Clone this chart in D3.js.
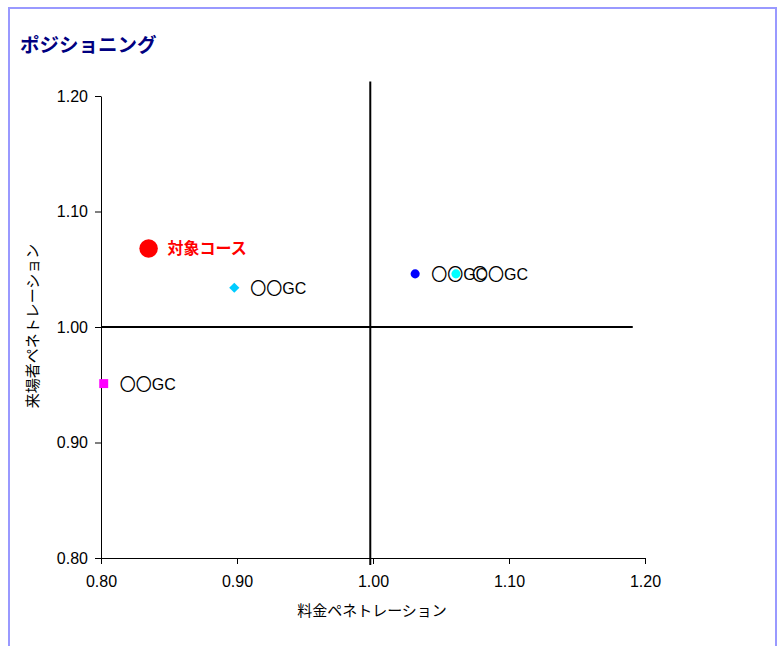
<!DOCTYPE html>
<html>
<head>
<meta charset="utf-8">
<script src="https://cdn.jsdelivr.net/npm/d3@7"></script>
<style>
  body { margin: 0; background: #fff; }
  svg { font-family: "Liberation Sans", Arial, sans-serif; }
</style>
</head>
<body>
<svg id="chart" width="780" height="646"></svg>
<script>
// points (料金ペネトレーション, 来場者ペネトレーション)
var names = ["対象コース", "〇〇GC", "〇〇GC", "〇〇GC", "〇〇GC"];
var priceVals = [0.835, 0.898, 0.802, 1.031, 1.061];
var visitorVals = [1.068, 1.034, 0.951, 1.046, 1.046];
var shapes = ["bigcircle", "diamond", "square", "circle", "circle"];
var colors = ["#ff0000", "#00ccff", "#ff00ff", "#0000ff", "#00ffff"];

var xTicks = [0.8, 0.9, 1.0, 1.1, 1.2];
var yTicks = [0.8, 0.9, 1.0, 1.1, 1.2];

// crosshair lines
var vLineX = [0.998, 0.998];
var vLineY = [1.2125, 0.794];
var hLineX = [0.80, 1.191];
var hLineY = [1.0, 1.0];

var svg = d3.select("#chart");

// frame
svg.append("path")
  .attr("d", "M9,646 V8 H776 V646")
  .attr("fill", "none")
  .attr("stroke", "#9999ff")
  .attr("stroke-width", 2);

svg.append("text")
  .attr("x", 20)
  .attr("y", 52)
  .attr("font-size", 19.5)
  .attr("font-weight", "bold")
  .attr("fill", "#000080")
  .attr("font-family", "'Noto Sans CJK JP', sans-serif")
  .text("ポジショニング");

var x = d3.scaleLinear().domain([0.8, 1.2]).range([101, 645]);
var y = d3.scaleLinear().domain([0.8, 1.2]).range([558, 96]);

var xAxis = svg.append("g")
  .attr("transform", "translate(0,558)")
  .call(d3.axisBottom(x).tickValues(xTicks).tickFormat(d3.format(".2f")).tickSize(6).tickSizeOuter(0));
xAxis.selectAll("text").attr("font-size", 16).attr("dy", "1.25em").attr("fill", "#000")
  .attr("font-family", "'Liberation Sans', Arial, sans-serif");

var yAxis = svg.append("g")
  .attr("transform", "translate(101,0)")
  .call(d3.axisLeft(y).tickValues(yTicks).tickFormat(d3.format(".2f")).tickSize(6).tickSizeOuter(0));
yAxis.selectAll("text").attr("font-size", 16).attr("dx", "-0.25em").attr("fill", "#000")
  .attr("font-family", "'Liberation Sans', Arial, sans-serif");

svg.selectAll(".domain, .tick line").attr("stroke", "#000");

// axis titles
svg.append("text")
  .attr("x", 372)
  .attr("y", 616)
  .attr("text-anchor", "middle")
  .attr("font-size", 15)
  .attr("font-family", "'Noto Sans CJK JP', sans-serif")
  .text("料金ペネトレーション");

svg.append("text")
  .attr("transform", "translate(38,326) rotate(-90)")
  .attr("text-anchor", "middle")
  .attr("font-size", 15)
  .attr("font-family", "'Noto Sans CJK JP', sans-serif")
  .text("来場者ペネトレーション");

// crosshair
var line = d3.line().x(function (d) { return x(d[0]); }).y(function (d) { return y(d[1]); });
svg.append("path")
  .attr("d", line(d3.zip(vLineX, vLineY)))
  .attr("stroke", "#000").attr("stroke-width", 2).attr("fill", "none");
svg.append("path")
  .attr("d", line(d3.zip(hLineX, hLineY)))
  .attr("stroke", "#000").attr("stroke-width", 2).attr("fill", "none");

// points
var pts = names.map(function (n, i) {
  return { name: n, px: priceVals[i], vy: visitorVals[i], shape: shapes[i], color: colors[i] };
});

var symbolFor = {
  bigcircle: d3.symbol().type(d3.symbolCircle).size(270),
  circle: d3.symbol().type(d3.symbolCircle).size(65),
  diamond: d3.symbol().type(d3.symbolSquare).size(52),
  square: d3.symbol().type(d3.symbolSquare).size(80)
};

var g = svg.selectAll("g.pt").data(pts).enter().append("g").attr("class", "pt");

g.append("text")
  .attr("x", function (d) { return x(d.px) + (d.shape === "bigcircle" ? 19 : 16); })
  .attr("y", function (d) { return y(d.vy) + 6; })
  .attr("font-size", 16)
  .attr("font-weight", function (d) { return d.shape === "bigcircle" ? "bold" : "normal"; })
  .attr("fill", function (d) { return d.shape === "bigcircle" ? "#ff0000" : "#000"; })
  .attr("font-family", function (d) {
    return d.shape === "bigcircle" ? "'Noto Sans CJK JP', sans-serif" : "'Liberation Sans', 'Noto Sans CJK JP', sans-serif";
  })
  .text(function (d) { return d.name; });

svg.selectAll("path.mk").data(pts).enter().append("path")
  .attr("class", "mk")
  .attr("transform", function (d) {
    return "translate(" + x(d.px) + "," + y(d.vy) + ")" + (d.shape === "diamond" ? " rotate(45)" : "");
  })
  .attr("d", function (d) { return symbolFor[d.shape](); })
  .attr("fill", function (d) { return d.color; });
</script>
</body>
</html>
